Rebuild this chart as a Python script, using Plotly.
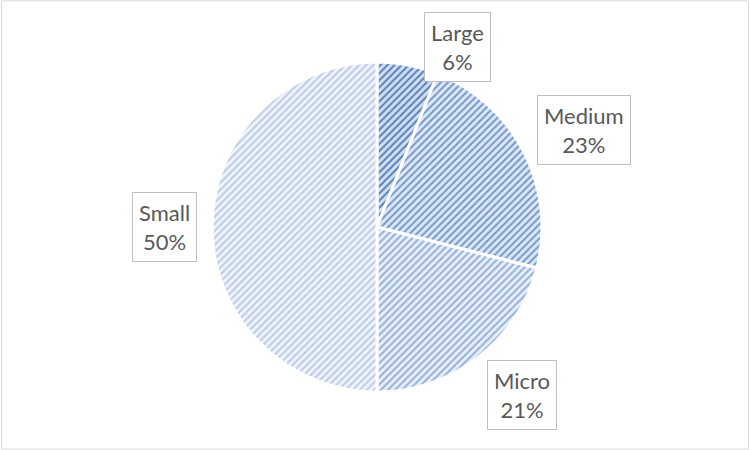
import math
import plotly.graph_objects as go

# Share of enterprises by size class
labels = ["Large", "Medium", "Micro", "Small"]
values = [6, 23, 21, 50]

stripe_fg = ["#5580bd", "#7398cc", "#93b0da", "#bccbe7"]
stripe_bg = ["#d3def0", "#dee7f4", "#e7eef8", "#eff3fa"]

W, H = 750, 450
cx, cy, R = 377, 227, 165  # pie centre and radius in pixels

fig = go.Figure(go.Pie(
    labels=labels,
    values=values,
    sort=False,
    direction="clockwise",
    rotation=0,
    textinfo="none",
    hoverinfo="label+percent",
    marker=dict(
        colors=stripe_bg,
        line=dict(color="white", width=3),
        pattern=dict(shape="/", fgcolor=stripe_fg, bgcolor=stripe_bg,
                     size=5, solidity=0.4, fillmode="replace"),
    ),
    domain=dict(x=[(cx - R) / W, (cx + R) / W],
                y=[(H - cy - R) / H, (H - cy + R) / H]),
    showlegend=False,
))

# Callout boxes placed around each slice's mid-angle
radial = [1.195, 1.385, 1.345, 1.285]
nudge = [13.4, 2.0, -3.0, 0.0]
total = sum(values)
acc = 0
annotations = []
for i, (lab, v) in enumerate(zip(labels, values)):
    mid = (acc + v / 2) / total * 360 + nudge[i]
    acc += v
    a = math.radians(mid)
    px = cx + radial[i] * R * math.sin(a)
    py = cy - radial[i] * R * math.cos(a)
    pct = round(v / total * 100)
    annotations.append(dict(
        x=px / W, y=1 - py / H, xref="paper", yref="paper",
        xanchor="center", yanchor="middle",
        text=f"{lab}<br>{pct}%", showarrow=False,
        font=dict(family="Lato, Calibri, sans-serif", size=22, color="#595959"),
        align="center", bgcolor="white", bordercolor="#bfbfbf",
        borderwidth=1, borderpad=6,
    ))

fig.update_layout(
    width=W, height=H,
    margin=dict(l=0, r=0, t=0, b=0),
    paper_bgcolor="white",
    annotations=annotations,
    shapes=[dict(type="rect", xref="paper", yref="paper",
                 x0=0.002, y0=0.002, x1=0.998, y1=0.998,
                 line=dict(color="#d9d9d9", width=1))],
)

fig.write_html("out.html")
